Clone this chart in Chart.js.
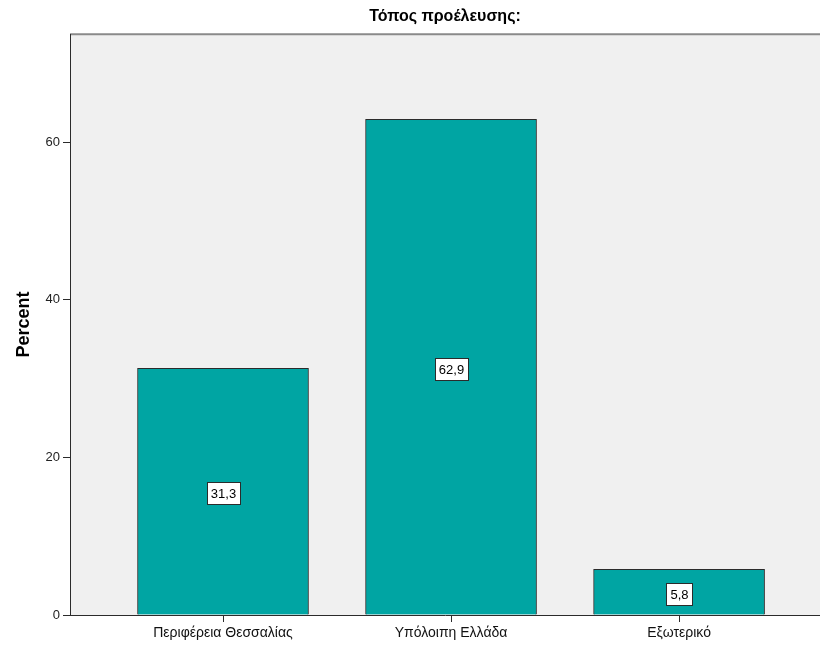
<!DOCTYPE html>
<html>
<head>
<meta charset="utf-8">
<script src="https://cdn.jsdelivr.net/npm/chart.js@4.4.0/dist/chart.umd.min.js"></script>
<style>
  html, body { margin: 0; padding: 0; background: #fff; }
  #wrap { width: 820px; height: 646px; }
</style>
</head>
<body>
<div id="wrap"><canvas id="canvas" width="820" height="646"></canvas></div>
<script>
// data
var categories = ['Περιφέρεια Θεσσαλίας', 'Υπόλοιπη Ελλάδα', 'Εξωτερικό'];
var percents = [31.3, 62.9, 5.8];
var yTicks = [0, 20, 40, 60];

var FONT = '"Liberation Sans", Arial, sans-serif';

// light grey plot box behind the bars
var plotBox = {
    id: 'plotBox',
    beforeDraw: function (chart) {
        var a = chart.chartArea, ctx = chart.ctx;
        ctx.save();
        ctx.fillStyle = '#f0f0f0';
        ctx.fillRect(a.left, a.top, a.right - a.left, a.bottom - a.top);
        ctx.strokeStyle = '#8a8a8a';
        ctx.lineWidth = 2;
        ctx.beginPath();
        ctx.moveTo(a.left, a.top);
        ctx.lineTo(a.right, a.top);
        ctx.stroke();
        ctx.restore();
    }
};

// white value boxes in the middle of each bar
var valueBoxes = {
    id: 'valueBoxes',
    afterDatasetsDraw: function (chart) {
        var ctx = chart.ctx;
        var meta = chart.getDatasetMeta(0);
        ctx.save();
        ctx.font = '13px ' + FONT;
        ctx.textAlign = 'center';
        ctx.textBaseline = 'middle';
        meta.data.forEach(function (bar, i) {
            var txt = percents[i].toFixed(1).replace('.', ',');
            var w = Math.round(ctx.measureText(txt).width + 8);
            var h = 22;
            var cy = Math.round((bar.y + bar.base) / 2) + 2;
            var cx = Math.round(bar.x);
            var left = Math.round(cx - w / 2);
            ctx.fillStyle = '#ffffff';
            ctx.fillRect(left, cy - h / 2, w, h);
            ctx.strokeStyle = '#2b2b2b';
            ctx.lineWidth = 1;
            ctx.strokeRect(left + 0.5, cy - h / 2 + 0.5, w, h);
            ctx.fillStyle = '#000';
            ctx.fillText(txt, cx + 0.5, cy + 1);
        });
        ctx.restore();
    }
};

var ctx = document.getElementById('canvas').getContext('2d');
var chart = new Chart(ctx, {
    type: 'bar',
    data: {
        datasets: [{
            label: 'Percent',
            data: percents.map(function (v, i) { return { x: i, y: v }; }),
            backgroundColor: '#00a5a3',
            borderColor: '#2b2b2b',
            borderWidth: 1,
            barThickness: 171
        }]
    },
    options: {
        responsive: false,
        animation: false,
        layout: { padding: 0 },
        plugins: {
            legend: { display: false },
            tooltip: { enabled: false },
            title: {
                display: true,
                text: 'Τόπος προέλευσης:',
                fullSize: false,
                color: '#000',
                font: { family: FONT, size: 16, weight: 'bold' },
                padding: { top: 7, bottom: 8 }
            }
        },
        scales: {
            x: {
                type: 'linear',
                offset: false,
                min: -0.671,
                max: 2.618,
                afterBuildTicks: function (scale) {
                    scale.ticks = categories.map(function (c, i) { return { value: i }; });
                },
                afterFit: function (scale) { scale.height = 31; },
                grid: { display: true, offset: false, drawOnChartArea: false, drawTicks: true, tickLength: 7, color: '#2b2b2b' },
                border: { display: true, color: '#2b2b2b', width: 1 },
                ticks: {
                    color: '#111',
                    padding: 3,
                    maxRotation: 0,
                    autoSkip: false,
                    font: { family: FONT, size: 14 },
                    callback: function (v) { return categories[v]; }
                }
            },
            y: {
                min: 0,
                max: 73.7,
                afterBuildTicks: function (scale) {
                    scale.ticks = yTicks.map(function (v) { return { value: v }; });
                },
                afterFit: function (scale) { scale.width = 70; },
                grid: { display: true, drawOnChartArea: false, drawTicks: true, tickLength: 7, color: '#2b2b2b' },
                border: { display: true, color: '#2b2b2b', width: 1 },
                title: {
                    display: true,
                    text: 'Percent',
                    color: '#000',
                    font: { family: FONT, size: 18, weight: 'bold' },
                    padding: { top: 13, bottom: 0 }
                },
                ticks: {
                    color: '#222',
                    padding: 3,
                    font: { family: FONT, size: 13 }
                }
            }
        }
    },
    plugins: [plotBox, valueBoxes]
});
</script>
</body>
</html>
